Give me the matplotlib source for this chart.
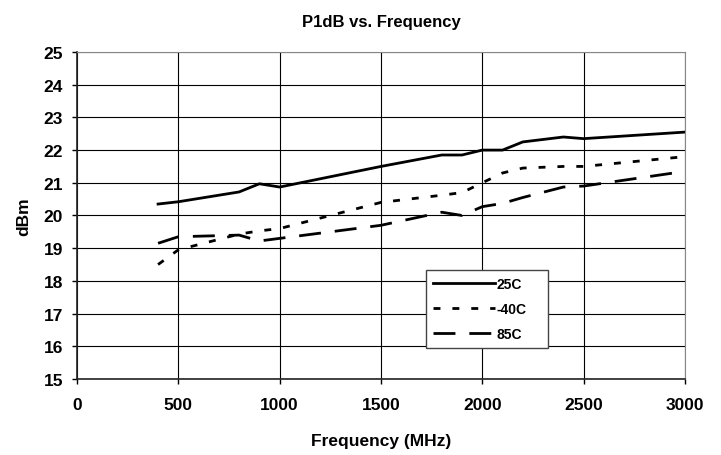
import numpy as np
import matplotlib
matplotlib.use('Agg')
import matplotlib.pyplot as plt

# DATA ================================================================

freq = [400, 500, 800, 900, 1000, 1500, 1800, 1900, 2000, 2100, 2200, 2400, 2500, 3000]
p1db_25c = [20.35, 20.42, 20.72, 20.97, 20.87, 21.5, 21.85, 21.85, 22.0, 22.0, 22.25, 22.4, 22.35, 22.55]
p1db_m40c = [18.5, 18.95, 19.43, 19.53, 19.6, 20.4, 20.62, 20.7, 21.0, 21.3, 21.45, 21.5, 21.5, 21.8]
p1db_85c = [19.15, 19.35, 19.4, 19.22, 19.3, 19.7, 20.1, 20.0, 20.27, 20.37, 20.55, 20.87, 20.9, 21.35]

xticks = [0, 500, 1000, 1500, 2000, 2500, 3000]
yticks = list(range(15, 26))

# PLOT ================================================================

plt.rcParams['font.family'] = ['Liberation Sans', 'DejaVu Sans']
plt.rcParams['font.weight'] = 'bold'

fig = plt.figure(figsize=(7.21, 4.56), dpi=100)
ax = fig.add_axes([0.1068, 0.1667, 0.8432, 0.7171])

ax.plot(freq, p1db_25c, color='black', lw=2, label='25C')
ax.plot(freq, p1db_m40c, color='black', lw=2, dashes=(2.5, 4.3), label='-40C')
ax.plot(freq, p1db_85c, color='black', lw=2, dashes=(7.9, 5), label='85C')

ax.set_xlim(0, 3000)
ax.set_ylim(15, 25)
ax.set_xticks(xticks)
ax.set_yticks(yticks)
ax.grid(True, color='black', lw=0.8)
ax.set_axisbelow(True)
ax.tick_params(labelsize=12.5, length=3.6, width=1)
ax.tick_params(axis='x', pad=9.5)
ax.tick_params(axis='y', pad=6.5)
for lab in ax.get_xticklabels() + ax.get_yticklabels():
    lab.set_fontweight('bold')

for s in ['top', 'right']:
    ax.spines[s].set_color('#888888')
for s in ['left', 'bottom']:
    ax.spines[s].set_color('#222222')
    ax.spines[s].set_linewidth(1.2)

ax.set_title('P1dB vs. Frequency', fontsize=12, fontweight='bold', pad=19)
ax.set_xlabel('Frequency (MHz)', fontsize=12.5, fontweight='bold', labelpad=15)
ax.set_ylabel('dBm', fontsize=12.5, fontweight='bold', labelpad=9)

leg = ax.legend(loc='lower left', bbox_to_anchor=(0.574, 0.095, 0.2007, 0.242),
                mode='expand', fontsize=10,
                handlelength=4.46, handletextpad=0.1, labelspacing=0.8,
                fancybox=False, framealpha=1, borderpad=0.5, borderaxespad=0)
leg.get_frame().set_edgecolor('#444444')
leg.get_frame().set_linewidth(1.0)
for t in leg.get_texts():
    t.set_fontweight('bold')

fig.savefig('out.png', dpi=100)
